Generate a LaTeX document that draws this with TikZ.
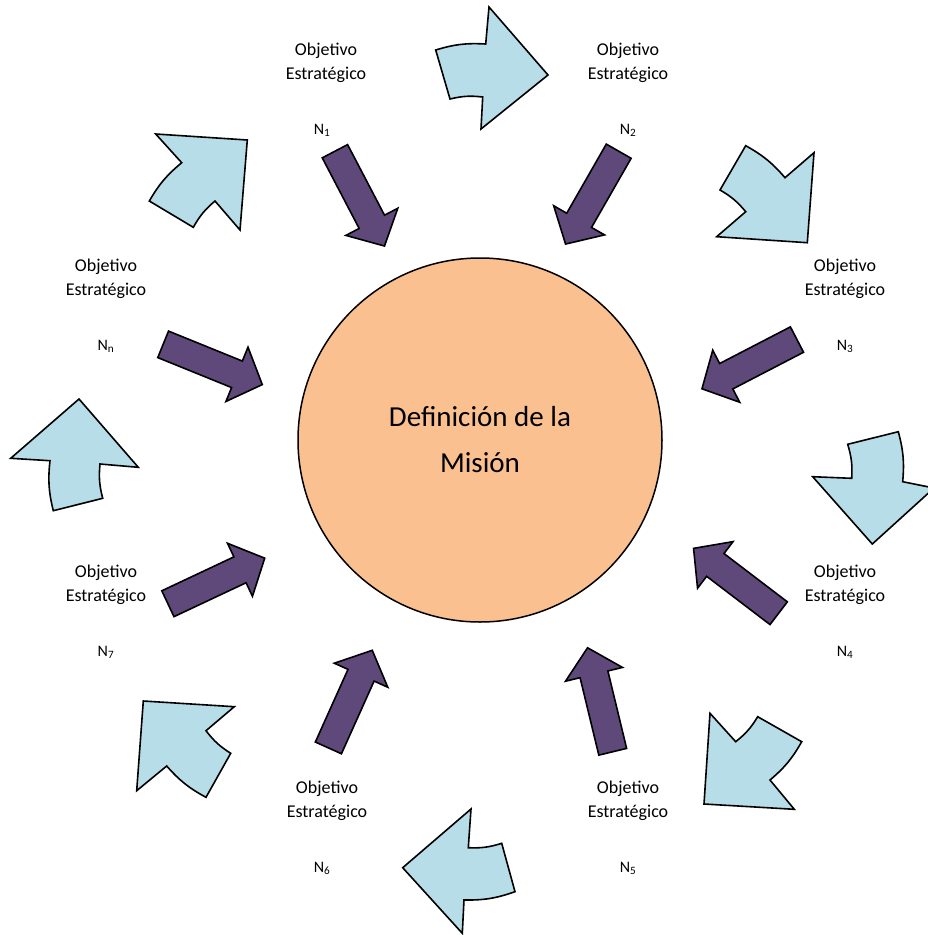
\documentclass[tikz,border=0pt]{standalone}
\usepackage{fontspec}
\setmainfont{Carlito}
\usetikzlibrary{shapes.arrows,positioning}
\definecolor{salmon}{HTML}{FAC090}
\definecolor{morado}{HTML}{5F497A}
\definecolor{celeste}{HTML}{B7DEE8}
\tikzstyle{mision}=[circle,draw=black,line width=1.5pt,fill=salmon,minimum size=364pt,align=center,font=\fontsize{29}{46}\selectfont]
\tikzstyle{flecha}=[single arrow,draw=black,line width=1.6pt,fill=morado,minimum height=107pt,inner sep=0pt,inner ysep=13.5pt,single arrow head extend=15pt,single arrow tip angle=94,anchor=tip]
\tikzstyle{ciclo}=[draw=black,line width=1.6pt,fill=celeste,line join=miter]
\tikzstyle{objetivo}=[align=center,font=\fontsize{18}{24}\selectfont]
\tikzstyle{nivel}=[anchor=base,font=\fontsize{16}{18}\selectfont]

\begin{document}
\begin{tikzpicture}[x=1pt,y=-1pt]
	\useasboundingbox (0,0) rectangle (928,935);
	\clip (0,0) rectangle (928,935);
	\node[mision] (mision) at (480,440) {Definición de la\\Misión};
	% flechas del ciclo
	\draw[ciclo] (435.7,50) to[bend left=10] (485.7,44) -- (489,7) -- (548,75) -- (481,129) -- (482.7,97) to[bend right=10] (450,99) -- cycle;
	\draw[ciclo] (745.7,145.7) to[bend left=10] (785,177.7) -- (814,152.7) -- (807.3,242.7) -- (716.7,236.7) -- (745.7,211.7) to[bend right=10] (720,190) -- cycle;
	\draw[ciclo] (898.3,431.7) to[bend left=10] (902.7,481.7) -- (934,488) -- (872.3,544) -- (812.7,476.7) -- (851.7,478.3) to[bend right=10] (847.7,444.3) -- cycle;
	\draw[ciclo] (801.7,741.7) to[bend left=10] (770,780) -- (794.3,809.3) -- (704,804) -- (710,713.3) -- (735.7,741.7) to[bend right=10] (757.7,716.7) -- cycle;
	\draw[ciclo] (515,891.7) to[bend left=10] (464,900) -- (462.3,933.3) -- (402.7,867.7) -- (471,809) -- (468.3,847.7) to[bend right=10] (501.7,843.3) -- cycle;
	\draw[ciclo] (206,797.3) to[bend left=10] (166.7,766) -- (136.7,790.7) -- (143.3,701) -- (234.3,706.7) -- (206,730.7) to[bend right=10] (230.7,753.3) -- cycle;
	\draw[ciclo] (53.3,510.7) to[bend left=10] (50,460.7) -- (10.7,458.3) -- (79,399) -- (138.3,467.3) -- (100,464) to[bend right=10] (102.7,498.3) -- cycle;
	\draw[ciclo] (149.3,201) to[bend left=10] (181.7,162.7) -- (155.7,134) -- (247.3,140) -- (240,230) -- (215,201) to[bend right=10] (193.3,227.3) -- cycle;
	% flechas hacia la mision
	\node[flecha,rotate=-62.4] (p1) at (385,247) {};
	\node[flecha,rotate=-119.8] (p2) at (565,245) {};
	\node[flecha,rotate=-152.6] (p3) at (701,389.3) {};
	\node[flecha,rotate=142.7] (p4) at (692.7,547.7) {};
	\node[flecha,rotate=103.6] (p5) at (587.3,646.7) {};
	\node[flecha,rotate=65.8] (p6) at (372.7,649.3) {};
	\node[flecha,rotate=25.2] (p7) at (265.7,557.7) {};
	\node[flecha,rotate=-22.1] (pn) at (263.3,385) {};
	% objetivos
	\node[objetivo] (o1) at (326,63) {Objetivo\\Estratégico};
	\node[nivel] (n1) at (322,134) {N\textsubscript{1}};
	\node[objetivo] (o2) at (628,63) {Objetivo\\Estratégico};
	\node[nivel] (n2) at (628,134) {N\textsubscript{2}};
	\node[objetivo] (o3) at (845,279) {Objetivo\\Estratégico};
	\node[nivel] (n3) at (845,350) {N\textsubscript{3}};
	\node[objetivo] (o4) at (845,585) {Objetivo\\Estratégico};
	\node[nivel] (n4) at (845,656) {N\textsubscript{4}};
	\node[objetivo] (o5) at (628,801) {Objetivo\\Estratégico};
	\node[nivel] (n5) at (628,872) {N\textsubscript{5}};
	\node[objetivo] (o6) at (327,801) {Objetivo\\Estratégico};
	\node[nivel] (n6) at (322,872) {N\textsubscript{6}};
	\node[objetivo] (o7) at (106,585) {Objetivo\\Estratégico};
	\node[nivel] (n7) at (106,656) {N\textsubscript{7}};
	\node[objetivo] (on) at (106,279) {Objetivo\\Estratégico};
	\node[nivel] (nn) at (106,350) {N\textsubscript{n}};
\end{tikzpicture}
\end{document}
